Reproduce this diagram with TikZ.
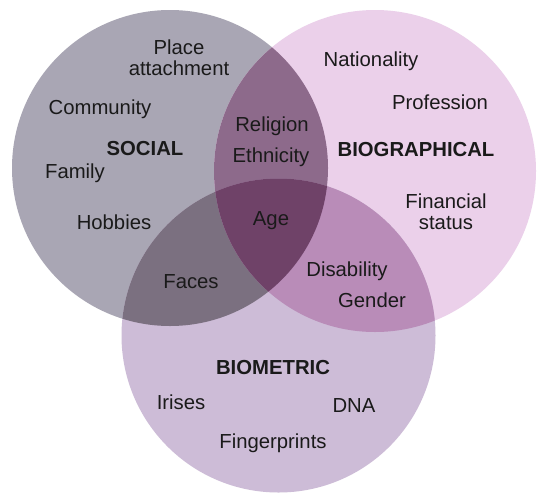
\documentclass[tikz,border=0pt]{standalone}
\usepackage{fontspec}
\setmainfont{Liberation Sans}
\definecolor{cS}{HTML}{A9A6B4}
\definecolor{cB}{HTML}{EBD0EA}
\definecolor{cM}{HTML}{CDBCD7}
\definecolor{cSB}{HTML}{8D6A8B}
\definecolor{cSM}{HTML}{7B7080}
\definecolor{cBM}{HTML}{B98CB8}
\definecolor{cSBM}{HTML}{6F4268}
\definecolor{txt}{HTML}{1A1A1A}
\begin{document}
\begin{tikzpicture}[x=1pt,y=-1pt,
  lab/.style={font=\fontsize{20.3}{21}\selectfont, text=txt, inner sep=0pt, align=center},
  head/.style={lab, font=\fontsize{20.3}{21}\selectfont\bfseries}]
\useasboundingbox (0,0) rectangle (545,493);
\fill[white] (0,0) rectangle (545,493);
\coordinate (S) at (170,168);
\coordinate (B) at (375,171);
\coordinate (M) at (278.5,335.5);
% base circles
\fill[cS] (S) circle[radius=158pt];
\fill[cB] (B) circle[radius=161pt];
\fill[cM] (M) circle[radius=157pt];
% pairwise overlaps
\begin{scope}
  \clip (S) circle[radius=158pt];
  \fill[cSB] (B) circle[radius=161pt];
  \fill[cSM] (M) circle[radius=157pt];
\end{scope}
\begin{scope}
  \clip (B) circle[radius=161pt];
  \fill[cBM] (M) circle[radius=157pt];
\end{scope}
% triple overlap
\begin{scope}
  \clip (S) circle[radius=158pt];
  \clip (B) circle[radius=161pt];
  \fill[cSBM] (M) circle[radius=157pt];
\end{scope}
% labels
\node[lab] (place) at (179,58) {Place\\attachment};
\node[lab] (nat) at (371,61) {Nationality};
\node[lab] (prof) at (440,102) {Profession};
\node[lab] (comm) at (100,109) {Community};
\node[lab] (rel) at (272,126) {Religion};
\node[head] (soc) at (145,149) {SOCIAL};
\node[head] (bio) at (416,150) {BIOGRAPHICAL};
\node[lab] (eth) at (271,157) {Ethnicity};
\node[lab] (fam) at (75,173) {Family};
\node[lab] (fin) at (446,211.5) {Financial\\status};
\node[lab] (hob) at (114,222) {Hobbies};
\node[lab] (age) at (271,221) {Age};
\node[lab] (dis) at (347,271) {Disability};
\node[lab] (faces) at (191,282) {Faces};
\node[lab] (gen) at (372,300) {Gender};
\node[head] (biom) at (273,368) {BIOMETRIC};
\node[lab] (iris) at (181,402) {Irises};
\node[lab] (dna) at (354,406) {DNA};
\node[lab] (fing) at (273,443) {Fingerprints};
\end{tikzpicture}
\end{document}
